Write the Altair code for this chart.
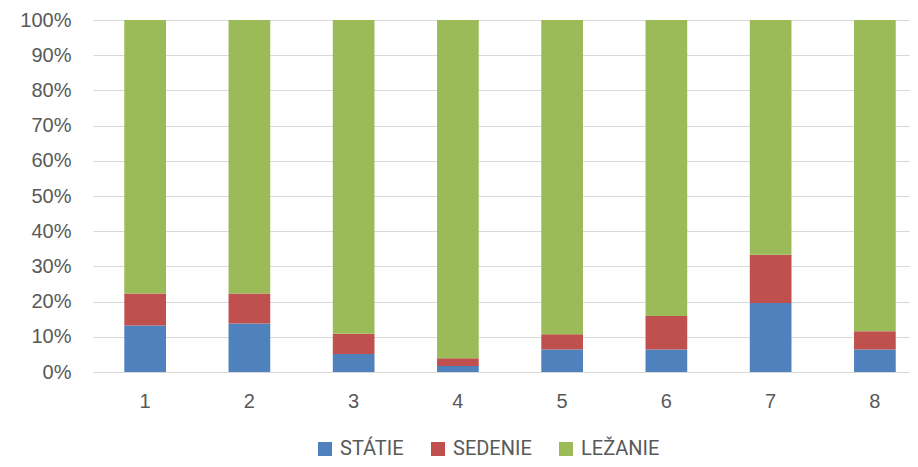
import altair as alt
import pandas as pd

categories = ["1", "2", "3", "4", "5", "6", "7", "8"]
series = ["STÁTIE", "SEDENIE", "LEŽANIE"]
statie = [13.2, 13.8, 5.1, 1.7, 6.4, 6.4, 19.6, 6.4]
sedenie = [9.1, 8.5, 5.8, 2.2, 4.3, 9.5, 13.7, 5.2]
lezanie = [77.7, 77.7, 89.1, 96.1, 89.3, 84.1, 66.7, 88.4]
colors = ["#4F81BD", "#C0504D", "#9BBB59"]

rows = []
for i, c in enumerate(categories):
    for k, (s, vals) in enumerate(zip(series, [statie, sedenie, lezanie])):
        rows.append({"cat": c, "series": s, "value": vals[i], "order": k})
df = pd.DataFrame(rows)

FONT = "Liberation Sans"
LFONT = "Roboto, sans-serif"
W, H = 817, 352

bars = alt.Chart(df).mark_bar().encode(
    x=alt.X("cat:N", sort=categories, title=None,
            scale=alt.Scale(paddingInner=0.6, paddingOuter=0.2185, align=0.687),
            axis=alt.Axis(labelAngle=0, ticks=False, domainColor="#D9D9D9",
                          domainWidth=1, labelPadding=19, labelFontSize=20,
                          labelColor="#595959", labelFont=FONT, grid=False)),
    y=alt.Y("value:Q", stack="normalize", title=None,
            scale=alt.Scale(domain=[0, 1], nice=False),
            axis=alt.Axis(format=".0%", values=[i / 10 for i in range(11)],
                          domain=False, ticks=False, gridColor="#D9D9D9",
                          gridWidth=1, labelPadding=22, labelFontSize=20,
                          labelColor="#595959", labelFont=FONT)),
    color=alt.Color("series:N", sort=series,
                    scale=alt.Scale(domain=series, range=colors),
                    legend=alt.Legend(title=None, orient="none", direction="horizontal",
                                      legendX=222, legendY=419,
                                      symbolType="square", symbolSize=196,
                                      symbolStrokeWidth=0, labelFontSize=20,
                                      labelColor="#595959", labelFont=LFONT,
                                      labelOffset=5, columnPadding=24)),
    order=alt.Order("order:Q", sort="ascending"),
)

border = alt.Chart(pd.DataFrame({"a": [0]})).mark_rule(color="#D9D9D9", strokeWidth=1.5).encode(
    x=alt.value(-90), y=alt.value(-20), y2=alt.value(447)
)

chart = alt.layer(bars, border).properties(
    width=W, height=H,
    autosize=alt.AutoSizeParams(type="none"),
    padding={"left": 85, "top": 12, "right": 0, "bottom": 87},
).configure_view(stroke=None)

chart.save("out.html", embed_options={"renderer": "svg", "actions": False})
